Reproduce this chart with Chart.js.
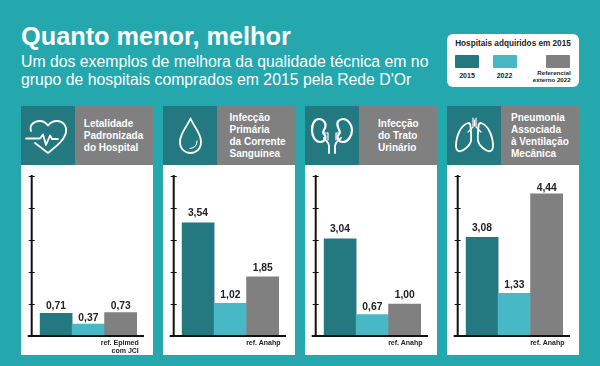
<!DOCTYPE html>
<html lang="pt">
<head>
<meta charset="utf-8">
<title>Quanto menor, melhor</title>
<script src="https://cdn.jsdelivr.net/npm/chart.js@4"></script>
<style>
  html, body { margin: 0; padding: 0; }
  body { width: 600px; height: 366px; background: #25a7ae; position: relative; overflow: hidden;
         font-family: "Liberation Sans", Arial, sans-serif; }
  h1 { position: absolute; left: 21px; top: 21.500px; margin: 0; color: #fff; font-size: 25.3px; line-height: 29px; font-weight: 700; }
  .sub { position: absolute; left: 21px; top: 52.500px; color: #fff; font-size: 15.8px; line-height: 18px; white-space: nowrap; }

  .legend { position: absolute; left: 447px; top: 34px; width: 132px; height: 53px; background: #fff; border-radius: 6px; color: #222; }
  .legend .ttl { position: absolute; left: 0; width: 132px; top: 5px; text-align: center; font-size: 8.2px; line-height: 10px; font-weight: 700; }
  .legend .sw { position: absolute; top: 21px; width: 24px; height: 13px; border-radius: 1px; }
  .legend .lb { position: absolute; top: 37px; font-size: 7px; line-height: 7px; font-weight: 700; text-align: center; }

  .panel { position: absolute; top: 106px; width: 131.5px; height: 249px; background: #fff; }
  .icon { position: absolute; left: 0; top: 0; width: 54px; height: 59px; background: #23797f; }
  .icon svg { display: block; }
  .head { position: absolute; left: 54px; top: 0; right: 0; height: 59px; background: #808080; color: #fff;
          font-size: 10px; line-height: 12px; font-weight: 700; box-sizing: border-box; display: flex; align-items: center; }
  .panel canvas { position: absolute; left: 0; top: 59px; }
  .ref { position: absolute; right: 14px; top: 232.500px; font-size: 7px; line-height: 8px; font-weight: 700; text-align: right; color: #222; }
</style>
</head>
<body>
<h1>Quanto menor, melhor</h1>
<div class="sub">Um dos exemplos de melhora da qualidade técnica em no<br>grupo de hospitais comprados em 2015 pela Rede D'Or</div>
<div class="legend" id="legend"></div>

<script>
/* Data */
const categories = ['2015', '2022', 'Referencial externo 2022'];
const letalidade = [0.71, 0.37, 0.73];
const correnteSanguinea = [3.54, 1.02, 1.85];
const tratoUrinario = [3.04, 0.67, 1.00];
const pneumonia = [3.08, 1.33, 4.44];
const yTicks = [0, 1, 2, 3, 4, 5];
const legendTitle = 'Hospitais adquiridos em 2015';

/* Colours */
const DARK = '#23797f', LIGHT = '#47b8c6', GRAY = '#808080';
const barColors = [DARK, LIGHT, GRAY];

/* Icons, drawn white on the dark square (54x59) */
const ICONS = {
  heart: '<path d="M10 25C8 19 13 15 19 15C23 15 25 17 27 19.500C29 17 32 15 36 15C42 15 46 20 45 26C44 33 37 39 27 47L14 37"/><path d="M5 32.500H19L22 28.500L25 39L29 29.500L31 33H37"/>',
  drop: '<path d="M27.500 12.500C24 21 17 27 17 36C17 43 22 47 27.500 47C33 47 38 43 38 36C38 27 31 21 27.500 12.500Z"/><path d="M34 35C34 39 31 42 27 42.500" stroke-width="1.200"/>',
  kidney: '<path d="M19 32C21 35 24 36 24 40V47"/><path d="M36 32C33 35 30 36 30 40V47"/><path d="M14 13C9 13 7 19 7 24C7 30 10 36 15 36C20 36 22 31 19 28C17 26 19 24 20 22C22 17 18 13 14 13Z" stroke-width="2.200"/><path d="M38 13C34 13 31 16 33 21C34 24 36 26 34 28C31 31 33 36 38 36C43 36 47 30 47 24C47 19 43 13 38 13Z" stroke-width="2.200"/><path d="M19 27H23V34M35 27H31V34" stroke-width="1.200"/>',
  lungs: '<path d="M26 12V21L21 26M29 12V21L34 26" stroke-width="1.200"/><path d="M27.500 14V20" stroke-width="1.200"/><path d="M21 17C14 19 9 30 9 40C9 44 11 46 14 45C17 44 23 40 24 35C24.500 31 24 26 23.500 20C23.400 18 22.500 17 21 17Z"/><path d="M34 17C41 19 46 30 46 40C46 44 44 46 41 45C38 44 32 40 31 35C30.500 31 31 26 31.500 20C31.600 18 32.500 17 34 17Z"/>'
};

const panels = [
  { left: 21.3, icon: 'heart',  values: letalidade,        title: ['Letalidade', 'Padronizada', 'do Hospital'], titlePad: 8.500, ref: ['ref. Epimed', 'com JCI'], gaps: [4, 3.500, 4] },
  { left: 163,  icon: 'drop',   values: correnteSanguinea, title: ['Infecção', 'Primária', 'da Corrente', 'Sanguínea'], titlePad: 12.500, ref: ['ref. Anahp'], gaps: [7, 5, 6] },
  { left: 305,  icon: 'kidney', values: tratoUrinario,     title: ['Infecção', 'do Trato', 'Urinário'], titlePad: 19, ref: ['ref. Anahp'], gaps: [7, 5, 6] },
  { left: 447,  icon: 'lungs',  values: pneumonia,         title: ['Pneumonia', 'Associada', 'à Ventilação', 'Mecânica'], titlePad: 10, ref: ['ref. Anahp'], gaps: [6, 5, 2.500] }
];

/* Bars fill the chart area edge to edge; the axes stick out of it on both sides */
const AXIS_OFFSET = 8, AXIS_OVERRUN = 7;

/* Black axes with ticks crossing the line, and value labels above the bars */
const axesAndLabels = {
  id: 'axesAndLabels',
  afterDatasetsDraw(chart, args, opts) {
    const { ctx, chartArea: a, scales: { y } } = chart;
    const axisX = a.left - AXIS_OFFSET;
    ctx.save();
    ctx.strokeStyle = '#111';
    ctx.lineWidth = 2;
    ctx.beginPath();
    ctx.moveTo(axisX, y.getPixelForValue(yTicks[yTicks.length - 1]) - 1);
    ctx.lineTo(axisX, a.bottom + 0.5);
    ctx.moveTo(axisX - 4, a.bottom);
    ctx.lineTo(a.right + AXIS_OVERRUN, a.bottom);
    ctx.stroke();
    ctx.lineWidth = 1;
    ctx.beginPath();
    yTicks.slice(1).forEach(t => {
      const py = Math.round(y.getPixelForValue(t)) + 0.5;
      ctx.moveTo(axisX - 3, py);
      ctx.lineTo(axisX + 3, py);
    });
    ctx.stroke();

    const meta = chart.getDatasetMeta(0);
    ctx.fillStyle = '#222';
    ctx.font = 'bold 10.3px "Liberation Sans", Arial, sans-serif';
    ctx.textAlign = 'center';
    ctx.textBaseline = 'alphabetic';
    chart.data.datasets[0].data.forEach((v, i) => {
      ctx.fillText(v.toFixed(2).replace('.', ','), meta.data[i].x, meta.data[i].y - opts.gaps[i]);
    });
    ctx.restore();
  }
};

function drawLegend() {
  const box = document.getElementById('legend');
  const lefts = [8, 45.500, 99];
  let html = `<div class="ttl">${legendTitle}</div>`;
  categories.forEach((c, i) => {
    const words = c.split(' ');
    const text = words.length > 1 ? words[0] + '<br>' + words.slice(1).join(' ') : c;
    html += `<div class="sw" style="left:${lefts[i]}px;background:${barColors[i]}"></div>`;
    if (i === 2) html += `<div class="lb" style="left:83.700px;width:40px;text-align:right;font-size:6.200px;top:35px">${text}</div>`;
    else html += `<div class="lb" style="left:${lefts[i] - 4}px;width:32px;top:38px">${text}</div>`;
  });
  box.innerHTML = html;
}

function drawPanel(p) {
  const div = document.createElement('div');
  div.className = 'panel';
  div.style.left = p.left + 'px';
  div.innerHTML = `
    <div class="icon"><svg width="54" height="59" viewBox="0 0 54 59" fill="none" stroke="#fff" stroke-width="1.800" stroke-linecap="round" stroke-linejoin="round">${ICONS[p.icon]}</svg></div>
    <div class="head" style="padding-left:${p.titlePad}px"><div>${p.title.join('<br>')}</div></div>
    <canvas width="131" height="190"></canvas>
    <div class="ref">${p.ref.join('<br>')}</div>`;
  document.body.appendChild(div);

  new Chart(div.querySelector('canvas').getContext('2d'), {
    type: 'bar',
    data: {
      labels: categories,
      datasets: [{
        data: p.values,
        backgroundColor: barColors,
        borderWidth: 0,
        barPercentage: 1,
        categoryPercentage: 1
      }]
    },
    options: {
      responsive: false,
      animation: false,
      layout: { padding: { left: 10.7 + AXIS_OFFSET, right: 15, top: 11, bottom: 19 } },
      plugins: { legend: { display: false }, tooltip: { enabled: false }, axesAndLabels: { gaps: p.gaps } },
      scales: {
        x: { display: true, grid: { display: false }, border: { display: false }, ticks: { display: false }, afterFit: s => { s.height = 0; } },
        y: { display: true, min: 0, max: 5, grid: { display: false }, border: { display: false },
             ticks: { display: false, stepSize: 1 }, afterFit: s => { s.width = 0; } }
      }
    },
    plugins: [axesAndLabels]
  });
}

drawLegend();
panels.forEach(drawPanel);
</script>
</body>
</html>
